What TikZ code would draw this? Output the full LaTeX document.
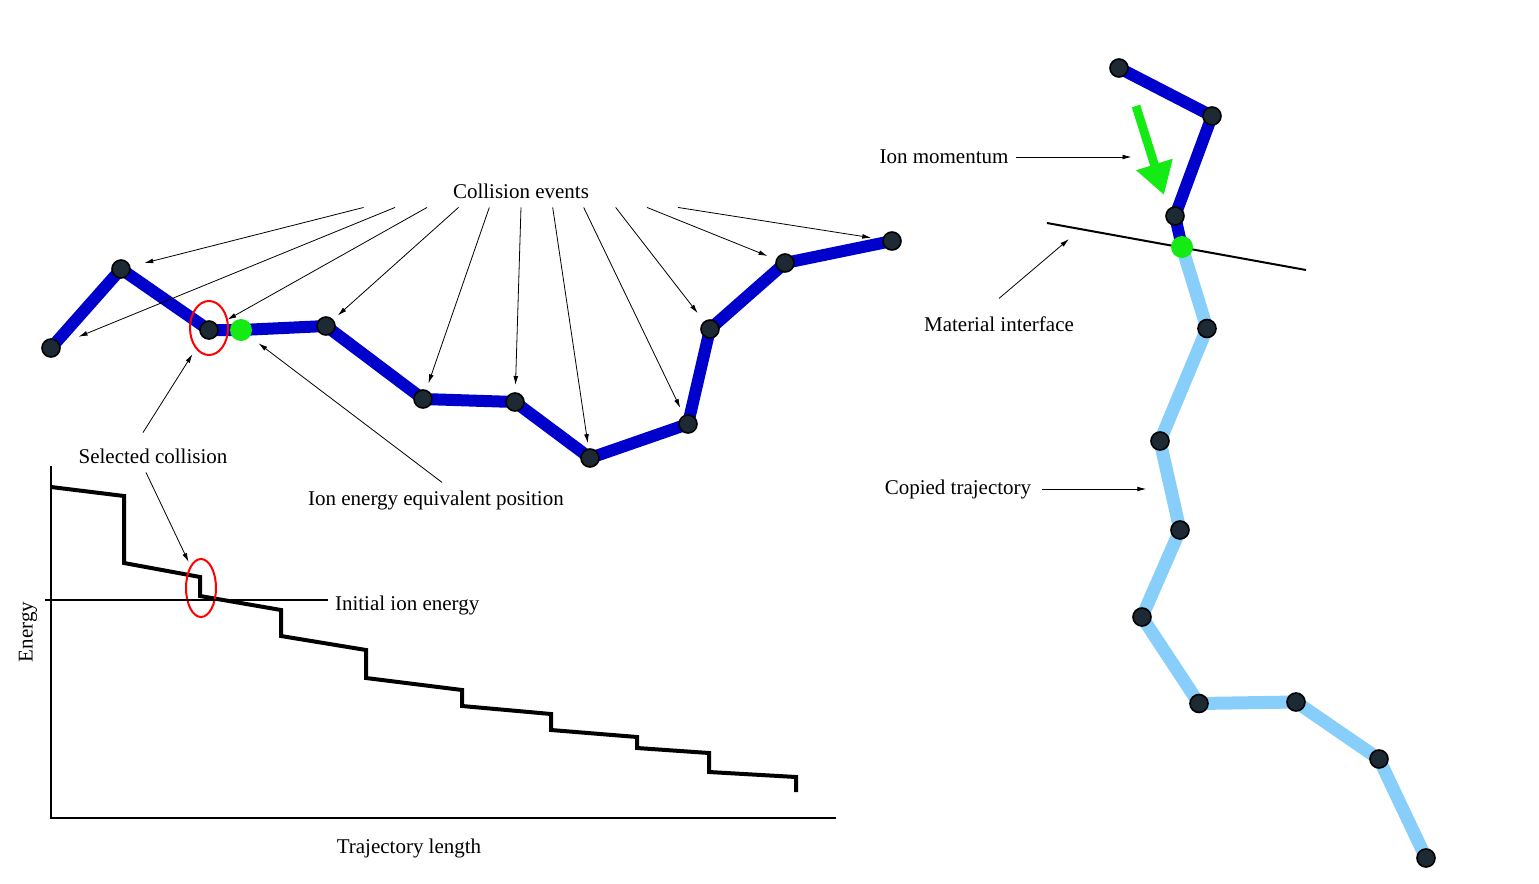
\documentclass[tikz,border=0pt]{standalone}
\usepackage{fontspec}
\setmainfont{Liberation Serif}
\usetikzlibrary{arrows.meta,shapes.geometric}
\definecolor{trajblue}{RGB}{0,0,205}
\definecolor{copyblue}{RGB}{135,206,250}
\definecolor{ionlime}{RGB}{20,235,20}
\definecolor{atomgray}{RGB}{30,42,51}
\tikzset{
  ev/.style={circle, draw=black, line width=0.8pt, fill=atomgray, inner sep=0pt, minimum size=9pt},
  hit/.style={circle, fill=ionlime, inner sep=0pt, minimum size=11pt},
  traj/.style={trajblue, line width=6pt, line join=round},
  copied/.style={copyblue, line width=6.5pt, line join=round},
  ring/.style={ellipse, draw=red, line width=1pt, inner sep=0pt},
}
\begin{document}
\begin{tikzpicture}[x=0.5pt, y=-0.5pt, >={Latex[length=4.5pt,width=2.4pt]}, font=\fontsize{10.5}{12}\selectfont]
\useasboundingbox (0,0) rectangle (1539,884);

% left trajectory
\draw[traj] (51,348) node[ev] (c1) {} -- (121,269) node[ev] (c2) {}
  -- (209,330) node[ev] (c3) {} -- (241,330) node[hit] (eq) {}
  -- (326,326) node[ev] (c4) {} -- (423,399) node[ev] (c5) {}
  -- (515,402) node[ev] (c6) {} -- (590,458) node[ev] (c7) {}
  -- (688,424) node[ev] (c8) {} -- (710,329) node[ev] (c9) {}
  -- (785,263) node[ev] (c10) {} -- (892,241) node[ev] (c11) {};
\node[ring, minimum width=19pt, minimum height=27pt] (r1) at (209,328) {};

\node (ce) at (521,191) {Collision events};
\foreach \dx/\t/\s in {-78.7/c2/7.1, -63/c1/10, -47/c3/5.6, -31.25/c4/3, -15.85/c5/3.4,
    0/c6/3.6, 15.85/c7/2.6, 31.35/c8/4, 47.35/c9/5.1, 63/c10/4.5, 78.5/c11/5.6}
  \draw[->, shorten >=\s pt] ([xshift=\dx pt, yshift=-1pt]ce.south) -- (\t);

\node (ieq) at (436,500) {Ion energy equivalent position};
\draw[->, shorten >=2.5pt] ([xshift=3pt, yshift=0.5pt]ieq.north) -- (eq);

% energy along the path
\draw[line width=0.6pt] (51,466) -- (51,818) -- (836,818);
\node[rotate=90] (ylab) at (28,632) {Energy};
\node (xlab) at (409,848) {Trajectory length};
\draw[line width=2pt] (51,487) -- (124,496) -- (124,563) -- (200,577) -- (200,596)
  -- (281,610) -- (281,636) -- (366,650) -- (366,678) -- (462,690) -- (462,706)
  -- (551,714) -- (551,730) -- (637,737) -- (637,748) -- (709,753) -- (709,772)
  -- (796,777) -- (796,792);
\node[ring, minimum width=15pt, minimum height=29pt] (r2) at (201,588) {};
\coordinate (e0) at (45,600);
\node[right] (iie) at (328,605) {Initial ion energy};
\draw[line width=0.6pt] (e0) -- (e0 -| iie.west);

\node (sel) at (153,456) {Selected collision};
\draw[->, shorten >=3pt] ([xshift=-5pt, yshift=4.5pt]sel.north) -- (r1);
\draw[->, shorten >=2pt] ([xshift=-3.5pt, yshift=-1pt]sel.south) -- (r2);

% right trajectory
\draw[line width=1pt] (1047,223) -- (1306,270);
\draw[copied] (1182,247) coordinate (g2) -- (1207,328.5) node[ev] (d4) {}
  -- (1160,441) node[ev] (d5) {} -- (1180,530) node[ev] (d6) {}
  -- (1142,617) node[ev] (d7) {} -- (1199,703.5) node[ev] (d8) {}
  -- (1296,702) node[ev] (d9) {} -- (1379,759) node[ev] (d10) {}
  -- (1426,858) node[ev] (d11) {};
\draw[traj] (1119,68) node[ev] (d1) {} -- (1212,116) node[ev] (d2) {}
  -- (1175,216) node[ev] (d3) {} -- (g2) node[hit] (ent) {};

\coordinate (mo0) at (1136,106);
\coordinate (mo1) at (1164,195);
\draw[ionlime, line width=4.4pt, -{Triangle[length=16pt,width=18pt]}] (mo0) -- (mo1);

\node (imom) at (944,157) {Ion momentum};
\draw[->] (imom.east) -- ++(116,0);
\node (mint) at (999,324) {Material interface};
\coordinate (mi) at (1069,239);
\draw[->] ([yshift=5.5pt]mint.north) -- (mi);
\node (ctraj) at (958,489) {Copied trajectory};
\draw[->] ([xshift=2pt]ctraj.east) -- ++(104,0);

\end{tikzpicture}
\end{document}
